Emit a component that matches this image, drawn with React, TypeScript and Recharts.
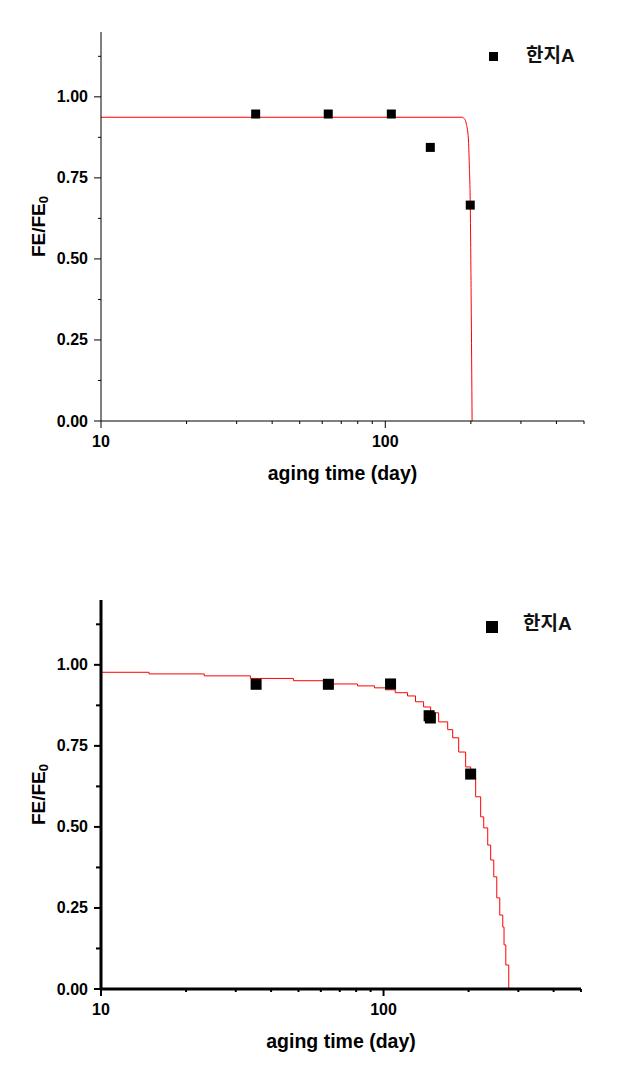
import React from 'react';
import { ComposedChart, XAxis, YAxis, Line, Scatter } from 'recharts';

// measured points (aging day, FE/FE0)
const topDays = [35, 63, 105, 144, 199];
const topRatio = [0.947, 0.947, 0.947, 0.844, 0.666];
const bottomDays = [35.4, 63.8, 105.9, 145, 146.5, 203.4];
const bottomRatio = [0.94, 0.94, 0.941, 0.843, 0.836, 0.663];

// fitted curves
const topFitDays = [10, 186, 190, 193, 196, 197.5, 199, 200.5, 202];
const topFitRatio = [0.937, 0.937, 0.932, 0.915, 0.87, 0.79, 0.67, 0.37, 0];
const bottomFitDays = [10, 14.8, 23.2, 33.8, 48, 65.9, 80.9, 92.9, 101.6, 110, 121.6, 129.8, 138.6, 146.8, 156.7, 168.7, 175.7, 184.5, 195.3, 203.5, 211.9, 220.7, 226.3, 233.8, 239.5, 245.6, 251.7, 257.9, 264.3, 267, 270.9, 277.5];
const bottomFitRatio = [0.977, 0.972, 0.966, 0.958, 0.951, 0.941, 0.935, 0.929, 0.923, 0.914, 0.904, 0.886, 0.87, 0.852, 0.824, 0.8, 0.775, 0.731, 0.685, 0.651, 0.593, 0.531, 0.497, 0.444, 0.398, 0.346, 0.281, 0.228, 0.191, 0.136, 0.074, 0];

const xMajor = [10, 100];
const xTicks = [10, 20, 30, 40, 50, 60, 70, 80, 90, 100, 200, 300, 400, 500];
const yMajor = [0, 0.25, 0.5, 0.75, 1];
const yTicks = [0, 0.125, 0.25, 0.375, 0.5, 0.625, 0.75, 0.875, 1, 1.125];

const seriesName = '한지A';
const xTitle = 'aging time (day)';

const FONT = '"Liberation Sans", Arial, "Noto Sans CJK KR", sans-serif';

const zip = (xs: number[], ys: number[]) => xs.map((t, i) => ({ t, v: ys[i] }));

const isMajor = (list: number[], v: number) => list.some((m) => Math.abs(m - v) < 1e-9);

function Panel({ top, height, right, points, fit, fitType, thick, markSize, legendBox }: any) {
  const sw = thick ? 2 : 1;
  const axisW = thick ? 3 : 1;

  const yTick = (p: any) => {
    const { x, y, payload } = p;
    const major = isMajor(yMajor, payload.value);
    const len = major ? 7 : thick ? 5 : 3;
    return (
      <g>
        <line x1={x - len} x2={x} y1={y} y2={y} stroke="#000" strokeWidth={sw} />
        {major && (
          <text x={x - 13} y={y} textAnchor="end" dominantBaseline="central" fontSize={16} fontWeight="bold" fontFamily={FONT} fill="#000">
            {payload.value.toFixed(2)}
          </text>
        )}
      </g>
    );
  };

  const xTick = (p: any) => {
    const { x, y, payload } = p;
    const major = isMajor(xMajor, payload.value);
    const len = major ? 7 : 3;
    return (
      <g>
        <line x1={x} x2={x} y1={y} y2={y + len} stroke="#000" strokeWidth={sw} />
        {major && (
          <text x={x} y={y + 20} textAnchor="middle" dominantBaseline="central" fontSize={16} fontWeight="bold" fontFamily={FONT} fill="#000">
            {payload.value}
          </text>
        )}
      </g>
    );
  };

  const yLabel = (p: any) => {
    const vb = p.viewBox;
    const cx = vb.x + vb.width - 63;
    const cy = vb.y + vb.height / 2;
    return (
      <text x={cx} y={cy} transform={`rotate(-90, ${cx}, ${cy})`} textAnchor="middle" dominantBaseline="central" fontSize={19} fontWeight="bold" fontFamily={FONT} fill="#000">
        FE/FE<tspan fontSize={13} dy={5}>0</tspan>
      </text>
    );
  };

  const xLabel = (p: any) => {
    const vb = p.viewBox;
    return (
      <text x={vb.x + vb.width / 2} y={vb.y + 52} textAnchor="middle" dominantBaseline="central" fontSize={19.5} fontWeight="bold" fontFamily={FONT} fill="#000">
        {xTitle}
      </text>
    );
  };

  const square = (p: any) => (
    <rect x={p.cx - markSize / 2} y={p.cy - markSize / 2} width={markSize} height={markSize} fill="#000" />
  );

  return (
    <div style={{ position: 'absolute', left: 0, top, width: 635, height }}>
      <ComposedChart width={635} height={height} margin={{ top: 32, right, bottom: height - 421 - 60, left: 41 }}>
        <XAxis
          dataKey="t"
          type="number"
          scale="log"
          domain={[10, 500]}
          allowDataOverflow
          ticks={xTicks}
          interval={0}
          tickSize={0}
          tickMargin={0}
          height={60}
          tick={xTick}
          axisLine={{ stroke: '#000', strokeWidth: axisW }}
          label={{ content: xLabel }}
        />
        <YAxis
          type="number"
          domain={[0, 1.2]}
          allowDataOverflow
          ticks={yTicks}
          interval={0}
          tickSize={0}
          tickMargin={0}
          width={60}
          tick={yTick}
          axisLine={{ stroke: '#000', strokeWidth: axisW }}
          label={{ content: yLabel }}
        />
        <Scatter data={points} dataKey="v" shape={square} isAnimationActive={false} />
        <Line data={fit} dataKey="v" type={fitType} stroke="#ff0000" strokeWidth={1} dot={false} activeDot={false} isAnimationActive={false} />
      </ComposedChart>
      <div style={{ position: 'absolute', left: legendBox.sx - legendBox.s / 2, top: legendBox.sy - legendBox.s / 2, width: legendBox.s, height: legendBox.s, background: '#000' }} />
      <div style={{ position: 'absolute', left: legendBox.tx, top: legendBox.ty - 13, height: 26, lineHeight: '26px', fontSize: 19, fontWeight: 'bold', fontFamily: FONT, color: '#111' }}>
        {seriesName}
      </div>
    </div>
  );
}

export default function App() {
  return (
    <div style={{ position: 'absolute', left: 0, top: 0, width: 635, height: 1073, background: '#fff' }}>
      <Panel
        top={0}
        height={536}
        right={51}
        points={zip(topDays, topRatio)}
        fit={zip(topFitDays, topFitRatio)}
        fitType="monotone"
        thick={false}
        markSize={9}
        legendBox={{ sx: 493, sy: 56, s: 9, tx: 526, ty: 56 }}
      />
      <Panel
        top={568}
        height={505}
        right={54}
        points={zip(bottomDays, bottomRatio)}
        fit={zip(bottomFitDays, bottomFitRatio)}
        fitType="stepAfter"
        thick={true}
        markSize={11}
        legendBox={{ sx: 492, sy: 59, s: 12, tx: 523, ty: 56 }}
      />
    </div>
  );
}
